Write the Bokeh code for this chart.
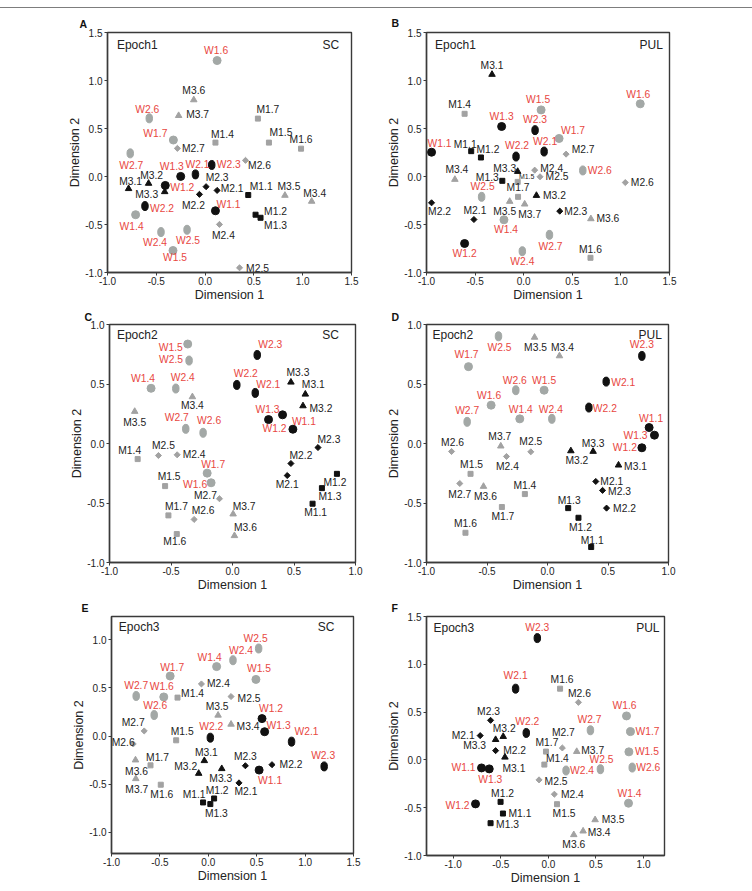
import math
from bokeh.plotting import figure
from bokeh.layouts import column, row
from bokeh.models import Range1d, FixedTicker, NumeralTickFormatter, Label, Div, ColumnDataSource
from bokeh.core.properties import value
from bokeh.embed import file_html
from bokeh.resources import INLINE

# ---------------------------------------------------------------- data
POINT_NAMES = (["W1.%d" % i for i in range(1, 8)] + ["W2.%d" % i for i in range(1, 8)]
               + ["M1.%d" % i for i in range(1, 8)] + ["M2.%d" % i for i in range(1, 8)]
               + ["M3.%d" % i for i in range(1, 8)])

# Epoch 1, SC
sc1_dim1 = [0.106, -0.408, -0.250, -0.712, -0.329, 0.123, -0.325,
            -0.099, -0.616, 0.068, -0.452, -0.185, -0.572, -0.767,
            0.442, 0.517, 0.568, 0.106, 0.654, 0.983, 0.541,
            0.123, -0.058, 0.010, 0.147, 0.353, 0.414, -0.284,
            -0.784, -0.579, -0.414, 1.092, 0.818, -0.116, -0.271]
sc1_dim2 = [-0.357, -0.093, 0.001, -0.398, -0.771, 1.208, 0.380,
            0.022, -0.308, 0.120, -0.579, -0.555, 0.606, 0.241,
            -0.193, -0.398, -0.430, 0.353, 0.353, 0.290, 0.603,
            -0.145, -0.186, -0.106, -0.499, -0.951, 0.168, 0.293,
            -0.127, -0.072, -0.159, -0.259, -0.197, 0.798, 0.634]

# Epoch 1, PUL
pul1_dim1 = [-0.948, -0.608, -0.227, -0.203, 0.179, 1.199, 0.364,
             0.210, -0.079, 0.117, -0.014, -0.433, 0.608, 0.265,
             -0.540, -0.440, -0.220, -0.608, -0.062, 0.687, -0.058,
             -0.512, -0.948, 0.371, 0.113, 0.168, 1.045, 0.436,
             -0.326, 0.131, -0.062, -0.708, -0.144, 0.691, 0.010]
pul1_dim2 = [0.253, -0.698, 0.521, -0.451, 0.694, 0.757, 0.396,
             0.260, 0.208, 0.483, -0.778, -0.212, 0.063, -0.608,
             0.264, 0.198, -0.045, 0.653, -0.056, -0.847, -0.212,
             -0.448, -0.274, -0.361, 0.066, -0.003, -0.063, 0.233,
             1.063, -0.198, 0.052, -0.031, -0.260, -0.441, -0.288]

# Epoch 2, SC
sc2_dim1 = [0.491, 0.407, 0.293, -0.662, -0.364, -0.174, -0.206,
            0.185, 0.035, 0.201, -0.461, -0.353, -0.239, -0.380,
            0.651, 0.849, 0.727, -0.771, -0.548, -0.453, -0.521,
            0.445, 0.475, 0.695, -0.450, -0.602, -0.312, -0.106,
            0.592, 0.573, 0.475, -0.326, -0.795, 0.016, 0.005]
sc2_dim2 = [0.120, 0.241, 0.201, 0.464, 0.836, -0.330, -0.249,
            0.425, 0.492, 0.744, 0.462, 0.697, 0.090, 0.123,
            -0.506, -0.255, -0.375, -0.131, -0.358, -0.761, -0.604,
            -0.269, -0.168, -0.034, -0.095, -0.101, -0.638, -0.464,
            0.414, 0.316, 0.515, 0.392, 0.269, -0.775, -0.593]

# Epoch 2, PUL
pul2_dim1 = [0.840, 0.780, 0.884, -0.229, -0.028, -0.466, -0.653,
             0.485, 0.342, 0.780, 0.036, -0.405, -0.262, -0.664,
             0.361, 0.256, 0.171, -0.187, -0.636, -0.678, -0.377,
             0.399, 0.488, 0.455, -0.339, -0.138, -0.793, -0.725,
             0.587, 0.193, 0.377, 0.099, -0.107, -0.529, -0.386]
pul2_dim2 = [0.134, -0.036, 0.070, 0.207, 0.448, 0.322, 0.646,
             0.520, 0.302, 0.736, 0.207, 0.901, 0.448, 0.182,
             -0.870, -0.624, -0.543, -0.425, -0.255, -0.750, -0.534,
             -0.319, -0.543, -0.394, -0.109, -0.070, -0.067, -0.336,
             -0.182, -0.062, -0.067, 0.736, 0.892, -0.361, -0.022]

# Epoch 3, SC
sc3_dim1 = [0.525, 0.555, 0.582, 0.086, 0.492, -0.460, -0.394,
            0.860, 0.021, 1.197, 0.255, 0.520, -0.559, -0.745,
            -0.054, 0.060, 0.021, -0.318, -0.332, -0.491, -0.597,
            0.317, 0.658, 0.383, -0.071, 0.235, -0.776, -0.662,
            -0.041, -0.099, 0.139, 0.235, 0.101, -0.752, -0.749]
sc3_dim2 = [-0.352, 0.182, 0.046, 0.722, 0.589, 0.407, 0.624,
            -0.057, -0.016, -0.314, 0.788, 0.910, 0.219, 0.417,
            -0.688, -0.647, -0.705, 0.400, -0.043, -0.504, -0.303,
            -0.485, -0.296, -0.307, 0.542, 0.411, -0.081, 0.054,
            -0.255, -0.387, -0.338, 0.123, 0.217, -0.248, -0.442]

# Epoch 3, PUL
pul3_dim1 = [-0.702, -0.765, -0.621, 0.842, 0.846, 0.821, 0.863,
             -0.344, -0.232, -0.116, 0.186, 0.547, 0.881, 0.442,
             -0.477, -0.502, -0.607, -0.042, 0.091, 0.123, -0.025,
             -0.716, -0.554, -0.607, 0.063, -0.098, 0.316, 0.147,
             -0.456, -0.474, -0.554, 0.365, 0.491, 0.267, 0.298]
pul3_dim2 = [-0.084, -0.460, -0.094, -0.453, 0.084, 0.460, 0.296,
             0.745, 0.282, 1.274, -0.111, -0.097, -0.080, 0.310,
             -0.561, -0.439, -0.662, -0.049, -0.463, 0.745, 0.087,
             0.254, 0.097, 0.414, -0.359, -0.209, 0.602, 0.125,
             0.028, 0.244, 0.212, -0.745, -0.627, -0.783, 0.087]

# ------------------------------------------------- label placement (px)
sc1_ldx = [13, 17, -9, -4, 2, -1, -18, 2, 17, 17, -6, 1, -2, 1,
           13, 20, 15, 7, 12, 0, 10, 15, -6, 11, 4, 18, 14, 16, 2, 3, -18, 3, 4, 0, 19]
sc1_ldy = [-6, 2, -10, 12, 7, -10, -7, -10, 2, 0, 10, 11, -9, 12,
           -9, -3, 8, -8, -10, -9, -9, -2, 11, -9, 11, 1, 5, 0, -7, -8, 3, -8, -9, -9, -1]
pul1_ldx = [8, 0, 0, 2, -3, -2, 14, 1, 1, 0, 0, 1, 17, 1,
            -6, 7, -15, -5, 9, 0, 0, 1, 8, 16, 17, 17, 17, 17, 0, 18, -13, 2, -5, 17, 5]
pul1_ldy = [-9, 10, -10, 10, -10, -9, -8, -10, -11, -11, 10, -10, 0, 12,
            -7, -8, -3, -9, -5, -8, -9, -9, 9, 0, -2, 0, 0, -5, -9, 0, -3, -10, 10, 0, 10]
sc2_ldx = [11, -8, -1, -8, -17, -16, 6, 13, 9, 13, 7, -18, 6, -9,
           3, -2, 8, -8, 4, -2, 8, 0, 10, 11, 17, 5, 9, -14, 8, 18, 7, 0, 0, 11, 11]
sc2_ldy = [-8, 14, -10, -10, 3, 2, -9, -8, -11, -10, -11, -1, -12, -11,
           9, 9, 8, -9, -10, 7, -9, 9, -8, -8, 0, -10, -9, -3, -10, 3, -10, 9, 11, -8, -8]
pul2_ldx = [2, -17, -19, 1, 0, -2, -2, 17, 16, 0, -1, 1, -1, 0,
            1, 2, 1, 0, 1, 0, 1, 16, 18, 17, 1, 0, 1, 0, 17, 6, 0, 3, 1, 2, -1]
pul2_ldy = [-9, 0, 0, -9, -10, -10, -12, 1, 1, -11, -9, 11, -10, -11,
            -7, 10, -8, -9, -9, -9, 9, 0, 0, 1, 10, -10, -9, 11, 1, 10, -8, -8, 10, 10, -10]
sc3_ldx = [11, 9, 14, -7, 3, -2, 2, 15, 1, -1, 8, -3, 1, 0,
           -9, 3, 6, 15, 6, 1, 7, 7, 19, 0, 17, 18, -10, -11, 2, -13, -1, 17, -1, 1, 1]
sc3_ldy = [10, -10, -6, -9, -11, -10, -9, -10, -11, -11, -10, -10, -10, -10,
           -8, -8, 9, -4, -9, 10, -8, 9, 0, -9, 0, 2, -1, -8, -8, -7, 10, 2, -9, 11, 11]
pul3_ldx = [-18, -18, 1, 1, 18, -2, 17, 0, 1, 0, 16, 1, 16, -1,
            17, 2, 17, 13, 7, 2, 1, -17, 19, -2, 18, 17, 1, 1, 9, 1, -21, 16, 18, 0, 16]
pul3_ldy = [0, 2, 11, -10, 0, -10, 0, -13, -11, -11, 0, -10, 0, -11,
            0, -8, 1, -6, 9, -9, -9, 0, 0, -9, 0, 2, -9, -15, 11, -8, 6, 1, 0, 10, -1]

# ---------------------------------------------------------------- style
FONT = "Liberation Sans"
INK = "#232323"
FRAME = "#3a3a3a"
MARK_DARK = "#111111"
MARK_GRAY = "#a2a2a2"
W_GRAY = "#a3a8a6"
RED = "#e8473f"


def make_panel(letter, epoch, region, dim1, dim2, ldx, ldy,
               x_range, y_range, x_ticks, y_ticks, frame, borders,
               letter_pos, epoch_pos, region_pos, small_labels=()):
    fw, fh = frame
    bl, br, bt, bb = borders
    p = figure(frame_width=fw, frame_height=fh,
               min_border_left=bl, min_border_right=br,
               min_border_top=bt, min_border_bottom=bb,
               x_range=Range1d(*x_range), y_range=Range1d(*y_range),
               output_backend="svg", toolbar_location=None, tools="")
    p.background_fill_color = "white"
    p.border_fill_color = "white"
    p.outline_line_color = FRAME
    p.outline_line_width = 1.4
    p.grid.visible = False

    # panel letter sits in the title slot, pulled left of the frame
    p.title.text = letter
    p.title.align = "left"
    p.title.offset = letter_pos[0]
    p.title.standoff = letter_pos[1]
    p.title.text_font = FONT
    p.title.text_font_size = "10.5px"
    p.title.text_font_style = "bold"
    p.title.text_color = "#111111"

    for ax, ticks, title in ((p.xaxis, x_ticks, "Dimension 1"), (p.yaxis, y_ticks, "Dimension 2")):
        ax.ticker = FixedTicker(ticks=ticks)
        ax.formatter = NumeralTickFormatter(format="0.0")
        ax.axis_label = title
        ax.axis_label_text_font = FONT
        ax.axis_label_text_font_size = "12.5px"
        ax.axis_label_text_font_style = "normal"
        ax.axis_label_text_color = INK
        ax.axis_label_standoff = 0
        ax.major_label_text_font = FONT
        ax.major_label_text_font_size = "10px"
        ax.major_label_text_color = INK
        ax.major_tick_out = 3
        ax.major_tick_in = 0
        ax.minor_tick_out = 0
        ax.minor_tick_in = 0
        ax.major_tick_line_color = FRAME
        ax.axis_line_color = FRAME
        ax.axis_line_width = 1.4
    p.xaxis.major_label_standoff = 1
    p.yaxis.major_label_standoff = 2

    # markers, one glyph per point family
    for key in ("M1", "M2", "M3", "W1", "W2"):
        idx = [i for i, n in enumerate(POINT_NAMES) if n.startswith(key)]
        light = W_GRAY if key[0] == "W" else MARK_GRAY
        cols = [MARK_DARK if int(POINT_NAMES[i].split(".")[1]) <= 3 else light for i in idx]
        src = ColumnDataSource(dict(x=[dim1[i] for i in idx], y=[dim2[i] for i in idx], c=cols))
        if key == "W1":
            p.scatter("x", "y", source=src, marker="circle", size=8,
                      fill_color="c", line_color="c")
        elif key == "W2":
            p.ellipse("x", "y", source=src, width=6.5, height=9,
                      width_units="screen", height_units="screen",
                      fill_color="c", line_color="c")
        elif key == "M1":
            p.scatter("x", "y", source=src, marker="square", size=5,
                      fill_color="c", line_color="c")
        elif key == "M2":
            p.scatter("x", "y", source=src, marker="square", size=4.3, angle=math.pi / 4,
                      fill_color="c", line_color="c")
        else:
            p.scatter("x", "y", source=src, marker="triangle", size=6.5,
                      fill_color="c", line_color="c")

    tcol = [RED if n[0] == "W" else INK for n in POINT_NAMES]
    tsize = ["7px" if n in small_labels else "10.3px" for n in POINT_NAMES]
    tsrc = ColumnDataSource(dict(x=dim1, y=dim2, t=POINT_NAMES, dx=ldx, dy=ldy, c=tcol, fs=tsize))
    p.text("x", "y", text="t", x_offset="dx", y_offset="dy", source=tsrc,
           text_color="c", text_font=value(FONT), text_font_size={"field": "fs"},
           text_align="center", text_baseline="middle")

    p.add_layout(Label(x=epoch_pos[0], y=fh - epoch_pos[1], x_units="screen", y_units="screen",
                       text=epoch, text_font=FONT, text_font_size="12px", text_color=INK,
                       text_align="left", text_baseline="middle"))
    p.add_layout(Label(x=fw - region_pos[0], y=fh - region_pos[1], x_units="screen", y_units="screen",
                       text=region, text_font=FONT, text_font_size="12px", text_color=INK,
                       text_align="right", text_baseline="middle"))
    return p


T15 = [-1.0, -0.5, 0.0, 0.5, 1.0, 1.5]
T10 = [-1.0, -0.5, 0.0, 0.5, 1.0]

pA = make_panel("A", "Epoch1", "SC", sc1_dim1, sc1_dim2, sc1_ldx, sc1_ldy,
                (-1.0, 1.5), (-1.0, 1.5), T15, T15, (244, 240), (107, 25, 24, 31),
                (-28, 5), (9.4, 12.3), (12.4, 12.3))
pB = make_panel("B", "Epoch1", "PUL", pul1_dim1, pul1_dim2, pul1_ldx, pul1_ldy,
                (-1.0, 1.5), (-1.0, 1.5), T15, T15, (243, 240), (50, 83, 24, 31),
                (-35, 7), (8.6, 12.3), (6.6, 12.3), small_labels=("M1.5",))
pC = make_panel("C", "Epoch2", "SC", sc2_dim1, sc2_dim2, sc2_ldx, sc2_ldy,
                (-1.0, 1.0), (-1.0, 1.0), T10, T10, (246, 238), (109, 21, 20, 33),
                (-25, 4), (7.4, 10.7), (16.7, 10.7))
pD = make_panel("D", "Epoch2", "PUL", pul2_dim1, pul2_dim2, pul2_ldx, pul2_ldy,
                (-1.0, 1.0), (-1.0, 1.0), T10, T10, (242, 238), (50, 84, 20, 33),
                (-35, 4), (6, 10.7), (6.7, 10.7))
pE = make_panel("E", "Epoch3", "SC", sc3_dim1, sc3_dim2, sc3_ldx, sc3_ldy,
                (-1.0, 1.5), (-1.218, 1.242), T15, T10, (242, 237), (111, 23, 21, 35),
                (-30, 5), (7.3, 10), (19, 10))
pF = make_panel("F", "Epoch3", "PUL", pul3_dim1, pul3_dim2, pul3_ldx, pul3_ldy,
                (-1.28, 1.22), (-1.0, 1.5), T10, T15, (238, 239), (50, 88, 21, 35),
                (-35, 5), (7, 11.7), (5, 11.7))

rule = Div(text="", width=752, height=8, margin=0,
           styles={"box-sizing": "border-box", "border-top": "5px solid white",
                   "border-bottom": "1.5px solid #7d7d7d"})

layout = column(rule, row(pA, pB, spacing=0), row(pC, pD, spacing=0), row(pE, pF, spacing=0),
                spacing=0)

open("out.html", "w").write(file_html(layout, INLINE))
